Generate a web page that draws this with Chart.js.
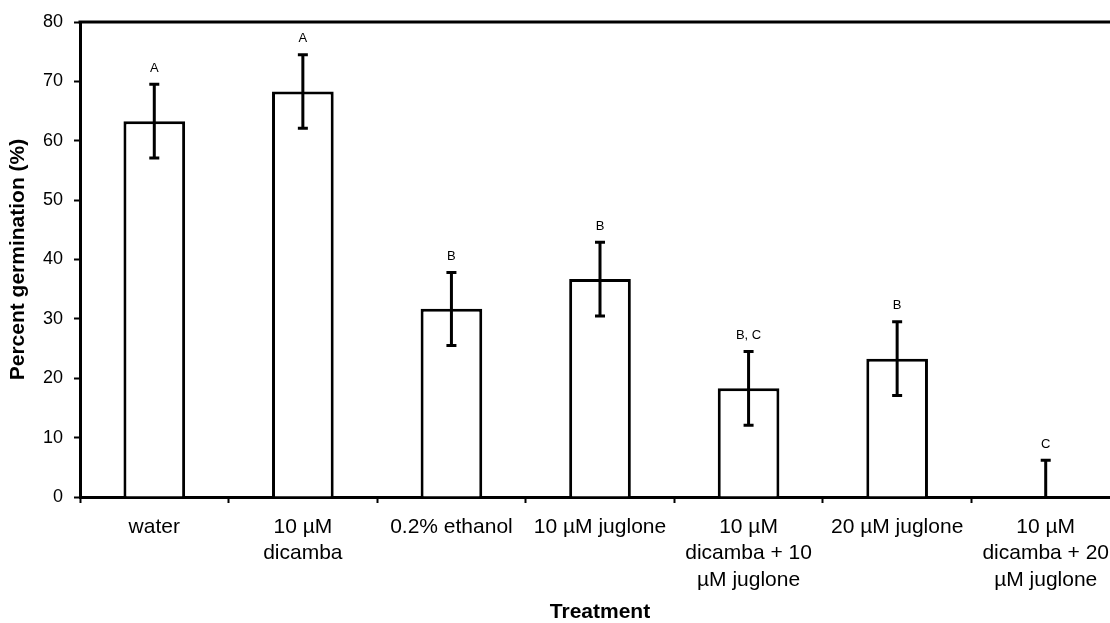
<!DOCTYPE html>
<html>
<head>
<meta charset="utf-8">
<script src="https://cdn.jsdelivr.net/npm/chart.js@4.4.1/dist/chart.umd.min.js"></script>
<style>
  html, body { margin: 0; padding: 0; background: #fff; overflow: hidden; }
  #wrap { width: 1110px; height: 623px; overflow: hidden; }
  #wrap canvas { display: block; }
</style>
</head>
<body>
<div id="wrap"><canvas id="bar-chart" width="1122" height="623" style="width:1122px;height:623px"></canvas></div>
<script>
var treatments = [
  "water",
  ["10 \u00b5M", "dicamba"],
  "0.2% ethanol",
  "10 \u00b5M juglone",
  ["10 \u00b5M", "dicamba + 10", "\u00b5M juglone"],
  "20 \u00b5M juglone",
  ["10 \u00b5M", "dicamba + 20", "\u00b5M juglone"]
];
var germination = [63.3, 68.3, 31.7, 36.7, 18.3, 23.3, 0];
var errorHigh = [6.2, 6.2, 6.1, 6.2, 6.2, 6.2, 6.2];
var errorLow = [6.2, 6.2, 6.2, 6.2, 6.2, 6.2, 0];
var letters = ["A", "A", "B", "B", "B, C", "B", "C"];
var yTicks = [0, 10, 20, 30, 40, 50, 60, 70, 80];

var fontName = "'Liberation Sans', Arial, sans-serif";

// error bars, letters and the top frame line
var extras = {
  id: 'extras',
  afterDatasetsDraw: function(chart) {
    var ctx = chart.ctx;
    var x = chart.scales.x, y = chart.scales.y;
    var area = chart.chartArea;
    ctx.save();
    ctx.strokeStyle = '#000';
    ctx.lineWidth = 3;
    ctx.beginPath();
    ctx.moveTo(area.left - 1.5, area.top);
    ctx.lineTo(area.right, area.top);
    ctx.stroke();

    ctx.lineWidth = 3;
    ctx.fillStyle = '#000';
    ctx.font = '13px ' + fontName;
    ctx.textAlign = 'center';
    ctx.textBaseline = 'middle';
    germination.forEach(function(v, i) {
      var cx = x.getPixelForValue(i);
      var top = y.getPixelForValue(v + errorHigh[i]);
      var bot = y.getPixelForValue(v - errorLow[i]);
      ctx.beginPath();
      ctx.moveTo(cx, top);
      ctx.lineTo(cx, bot);
      ctx.moveTo(cx - 5, top);
      ctx.lineTo(cx + 5, top);
      if (errorLow[i] > 0) {
        ctx.moveTo(cx - 5, bot);
        ctx.lineTo(cx + 5, bot);
      }
      ctx.stroke();
      ctx.fillText(letters[i], cx, top - 16);
    });
    ctx.restore();
  }
};

new Chart(document.getElementById("bar-chart"), {
  type: 'bar',
  data: {
    labels: treatments,
    datasets: [{
      label: "Percent germination",
      data: germination,
      backgroundColor: '#fff',
      borderColor: '#000',
      borderWidth: 3,
      barPercentage: 0.83,
      categoryPercentage: 0.5
    }]
  },
  options: {
    responsive: false,
    animation: false,
    layout: { padding: { top: 22, right: 2, left: 0, bottom: 0 } },
    plugins: {
      legend: { display: false },
      tooltip: { enabled: false }
    },
    scales: {
      x: {
        grid: { display: true, drawOnChartArea: false, offset: true, color: '#000', tickLength: 6, tickWidth: 2 },
        border: { color: '#000', width: 3 },
        ticks: {
          color: '#000', maxRotation: 0, autoSkip: false, padding: 11,
          font: { family: fontName, size: 21, lineHeight: 1.26 }
        },
        title: {
          display: true, text: 'Treatment', color: '#000',
          font: { family: fontName, size: 21, weight: 'bold' },
          padding: { top: 12, bottom: -2 }
        },
        afterFit: function(s) { s.height = 126; }
      },
      y: {
        min: 0, max: 80,
        afterBuildTicks: function(s) { s.ticks = yTicks.map(function(v) { return { value: v }; }); },
        grid: { display: true, drawOnChartArea: false, color: '#000', tickLength: 6, tickWidth: 2 },
        border: { color: '#000', width: 3 },
        ticks: {
          color: '#000', padding: 11,
          font: { family: fontName, size: 18 }
        },
        title: {
          display: true, text: 'Percent germination (%)', color: '#000',
          font: { family: fontName, size: 21, weight: 'bold' },
          padding: { top: 6, bottom: 4 }
        },
        afterFit: function(s) { s.width = 80; }
      }
    }
  },
  plugins: [extras]
});
</script>
</body>
</html>
